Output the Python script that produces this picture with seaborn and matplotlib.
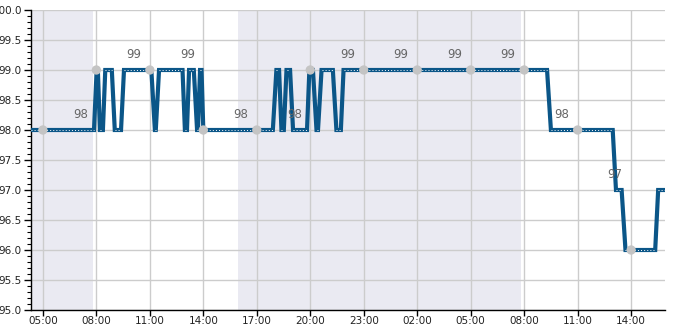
import matplotlib
matplotlib.use("Agg")
import matplotlib.pyplot as plt
import matplotlib.dates as mdates
from matplotlib.ticker import MultipleLocator
import seaborn as sns
import pandas as pd

# ---- data ----
line_times = [
    "2024-01-01 04:20", "2024-01-01 07:52", "2024-01-01 08:01", "2024-01-01 08:05",
    "2024-01-01 08:12", "2024-01-01 08:22", "2024-01-01 08:30", "2024-01-01 08:52",
    "2024-01-01 09:02", "2024-01-01 09:23", "2024-01-01 09:33", "2024-01-01 11:05",
    "2024-01-01 11:17", "2024-01-01 11:20", "2024-01-01 11:31", "2024-01-01 12:50",
    "2024-01-01 12:58", "2024-01-01 13:05", "2024-01-01 13:12", "2024-01-01 13:28",
    "2024-01-01 13:39", "2024-01-01 13:42", "2024-01-01 13:49", "2024-01-01 13:54",
    "2024-01-01 14:00", "2024-01-01 17:54", "2024-01-01 18:06", "2024-01-01 18:15",
    "2024-01-01 18:23", "2024-01-01 18:31", "2024-01-01 18:40", "2024-01-01 18:52",
    "2024-01-01 19:02", "2024-01-01 19:49", "2024-01-01 19:57", "2024-01-01 20:09",
    "2024-01-01 20:21", "2024-01-01 20:26", "2024-01-01 20:38", "2024-01-01 21:16",
    "2024-01-01 21:28", "2024-01-01 21:43", "2024-01-01 21:52", "2024-01-02 09:17",
    "2024-01-02 09:30", "2024-01-02 12:58", "2024-01-02 13:09", "2024-01-02 13:28",
    "2024-01-02 13:41", "2024-01-02 15:21", "2024-01-02 15:31", "2024-01-02 15:54",
]
line_values = [
    98, 98, 99, 99,
    98, 98, 99, 99,
    98, 98, 99, 99,
    98, 98, 99, 99,
    98, 98, 99, 99,
    98, 98, 99, 99,
    98, 98, 99, 99,
    98, 98, 99, 99,
    98, 98, 99, 99,
    98, 98, 99, 99,
    98, 98, 99, 99,
    98, 98, 97, 97,
    96, 96, 97, 97,
]

marker_times = [
    "2024-01-01 05:00", "2024-01-01 08:00", "2024-01-01 11:00", "2024-01-01 14:00",
    "2024-01-01 17:00", "2024-01-01 20:00", "2024-01-01 23:00", "2024-01-02 02:00",
    "2024-01-02 05:00", "2024-01-02 08:00", "2024-01-02 11:00", "2024-01-02 14:00",
]
marker_values = [98, 99, 99, 98, 98, 99, 99, 99, 99, 99, 98, 96]

label_times = [
    "2024-01-01 07:06", "2024-01-01 10:06", "2024-01-01 13:06", "2024-01-01 16:06",
    "2024-01-01 19:06", "2024-01-01 22:06", "2024-01-02 01:06", "2024-01-02 04:06",
    "2024-01-02 07:06", "2024-01-02 10:06", "2024-01-02 13:06",
]
label_values = [98, 99, 99, 98, 98, 99, 99, 99, 99, 98, 97]

shade_starts = ["2024-01-01 04:20", "2024-01-01 15:57"]
shade_ends = ["2024-01-01 07:48", "2024-01-02 07:49"]

x_start = "2024-01-01 04:20"
x_end = "2024-01-02 15:54"
y_min, y_max = 95.0, 100.0

# ---- plot ----
sns.set_theme(style="ticks")
plt.rcParams["font.family"] = ["DejaVu Sans"]

fig = plt.figure(figsize=(6.85, 3.30), dpi=100)
ax = fig.add_axes([31 / 685, 20 / 330, (665 - 31) / 685, 300 / 330])

line_df = pd.DataFrame({"time": pd.to_datetime(line_times), "value": line_values})
mark_df = pd.DataFrame({"time": pd.to_datetime(marker_times), "value": marker_values})

for s, e in zip(shade_starts, shade_ends):
    ax.axvspan(pd.Timestamp(s), pd.Timestamp(e), color="#eaeaf2", lw=0, zorder=0)

ax.grid(True, color="#cccccc", lw=1, zorder=1)
ax.set_axisbelow(True)

sns.lineplot(data=line_df, x="time", y="value", ax=ax, color="#0b5688",
             lw=3.0, zorder=3, solid_joinstyle="miter")

# white dotted centre line on the flat runs only
for i in range(len(line_df) - 1):
    if line_df["value"].iloc[i] == line_df["value"].iloc[i + 1]:
        seg = line_df.iloc[i:i + 2]
        ax.plot(seg["time"], seg["value"], color="white", lw=0.7,
                linestyle=(0, (1, 2.2)), zorder=4)

sns.scatterplot(data=mark_df, x="time", y="value", ax=ax, color="#c4c4c4",
                s=45, edgecolor="none", zorder=5)

for t, v in zip(label_times, label_values):
    ax.text(pd.Timestamp(t), v + 0.25, str(v), ha="center", va="center",
            fontsize=8.5, color="#666666", zorder=6)

ax.set_xlim(pd.Timestamp(x_start), pd.Timestamp(x_end))
ax.set_ylim(y_min, y_max)
ax.yaxis.set_major_locator(MultipleLocator(0.5))
ax.yaxis.set_minor_locator(MultipleLocator(0.1))
ax.yaxis.set_major_formatter(matplotlib.ticker.FormatStrFormatter("%.1f"))
ax.xaxis.set_major_locator(mdates.HourLocator(byhour=[2, 5, 8, 11, 14, 17, 20, 23]))
ax.xaxis.set_major_formatter(mdates.DateFormatter("%H:%M"))

ax.set_xlabel("")
ax.set_ylabel("")
for side in ["top", "right"]:
    ax.spines[side].set_visible(False)
for side in ["left", "bottom"]:
    ax.spines[side].set_color("black")
    ax.spines[side].set_linewidth(1)

ax.tick_params(axis="both", which="major", labelsize=7.5, length=5, width=1,
               color="black", pad=1.5, labelcolor="#222222")
ax.tick_params(axis="x", which="major", length=4, pad=0.5)
ax.tick_params(axis="y", which="minor", length=3, width=0.8, color="black")
ax.tick_params(axis="x", which="minor", length=0)

fig.savefig("out.png", dpi=100)
